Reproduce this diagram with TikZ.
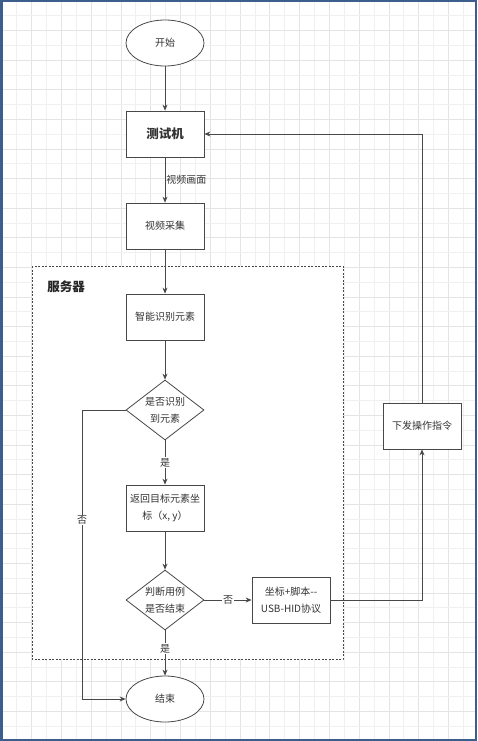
\documentclass[tikz,border=0pt]{standalone}
\usepackage{fontspec}
\setmainfont{Noto Sans CJK SC}
\usetikzlibrary{shapes.geometric}
\usetikzlibrary{arrows.meta}
\definecolor{borderblue}{RGB}{59,94,140}
\definecolor{flowline}{RGB}{72,72,72}
\definecolor{gridlight}{RGB}{240,240,240}
\definecolor{griddark}{RGB}{228,228,228}
\colorlet{flowtext}{black!80}

\begin{document}
\begin{tikzpicture}[x=1pt, y=-1pt,
    box/.style={draw=flowline, line width=0.8pt, fill=white, minimum width=78pt, minimum height=46pt, inner sep=0pt, align=center, text=flowtext, font=\fontsize{10pt}{17pt}\selectfont},
    terminal/.style={box, ellipse},
    decision/.style={box, diamond, aspect=1.3, minimum height=60pt},
    flow/.style={draw=flowline, line width=0.8pt, -{Stealth[length=6pt,width=5pt]}},
    onlbl/.style={fill=white, inner sep=1pt, text=flowtext, font=\fontsize{10pt}{12pt}\selectfont},
    sidelbl/.style={inner sep=1pt, text=flowtext, font=\fontsize{10pt}{12pt}\selectfont}]

    \useasboundingbox (0,0) rectangle (477,741);

    % grid
    \foreach \i in {0,...,31} {
        \pgfmathtruncatemacro{\even}{mod(\i,2)}
        \ifnum\even=0 \def\gc{griddark}\else\def\gc{gridlight}\fi
        \draw[\gc, line width=0.8pt] ({1.8+14.89*\i},0) -- ({1.8+14.89*\i},741);
    }
    \foreach \j in {0,...,50} {
        \pgfmathtruncatemacro{\even}{mod(\j,2)}
        \ifnum\even=0 \def\gc{griddark}\else\def\gc{gridlight}\fi
        \draw[\gc, line width=0.8pt] (0,{1+14.8*\j}) -- (477,{1+14.8*\j});
    }
    \draw[borderblue, line width=2.5pt] (1.25,1.25) rectangle (475.75,739.75);

    % server area
    \draw[flowline, line width=0.8pt, dash pattern=on 2pt off 1.5pt, fill=white] (32,266) rectangle (343,659);
    \node[font=\bfseries\fontsize{12.5pt}{14pt}\selectfont, text=black!85] (servertitle) at (66,287) {服务器};

    \node[terminal] (start) at (165,43) {开始};
    \node[box, font=\bfseries\fontsize{12.5pt}{14pt}\selectfont] (tester) at (165,134) {测试机};
    \node[box] (capture) at (165,226) {视频采集};
    \node[box] (recog) at (165,317) {智能识别元素};
    \node[decision] (found) at (165,410) {是否识别\\到元素};
    \node[box] (coords) at (165,508) {返回目标元素坐\\标（x, y）};
    \node[decision] (done) at (165,600) {判断用例\\是否结束};
    \node[box] (script) at (291,600) {坐标+脚本{-}{-}\\USB-HID协议};
    \node[box] (cmd) at (422,426) {下发操作指令};
    \node[terminal] (finish) at (165,699) {结束};
    \coordinate (nocorner) at (82,699);

    \draw[flow] (start) -- (tester);
    \draw[flow] (tester) -- node[sidelbl, right]{视频画面} (capture);
    \draw[flow] (capture) -- (recog);
    \draw[flow] (recog) -- (found);
    \draw[flow] (found) -- node[onlbl]{是} (coords);
    \draw[flow] (coords) -- (done);
    \draw[flow] (done) -- node[onlbl]{否} (script);
    \draw[flow] (done) -- node[onlbl, pos=0.4]{是} (finish);
    \draw[flow] (found.west) -| node[onlbl, pos=0.69]{否} (nocorner) -- (finish.west);
    \draw[flow] (script.east) -| (cmd.south);
    \draw[flow] (cmd.north) |- (tester.east);

\end{tikzpicture}
\end{document}
